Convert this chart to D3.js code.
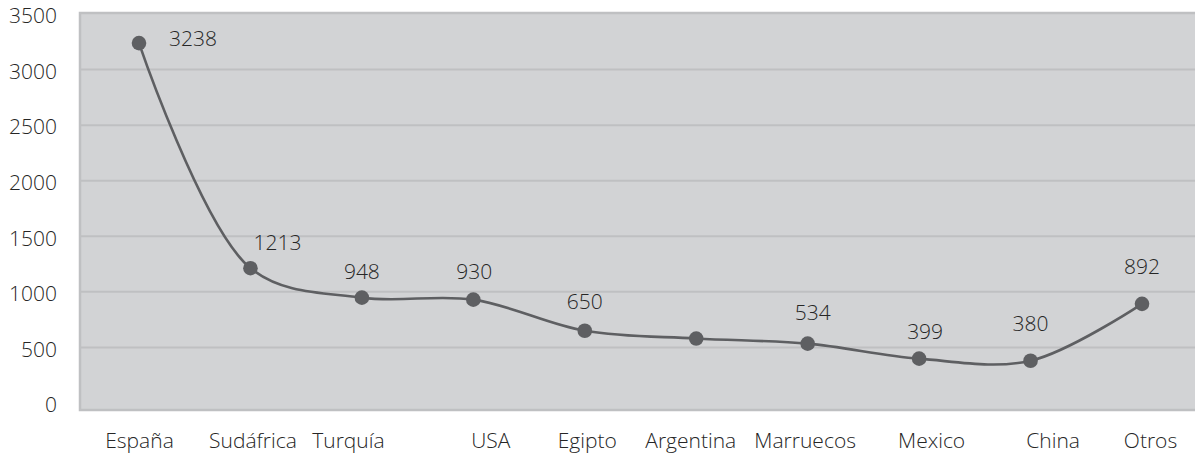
<!DOCTYPE html>
<html lang="es">
<head>
<meta charset="utf-8">
<script src="https://cdn.jsdelivr.net/npm/d3@7/dist/d3.min.js"></script>
<style>
  html, body { margin: 0; padding: 0; background: #ffffff; }
  svg { display: block; }
  text { font-family: "Open Sans", "Noto Sans", sans-serif; font-weight: 300; fill: #262626; }
</style>
</head>
<body>
<svg id="chart" width="1195" height="454"></svg>
<script>
// Countries (categories) and their values
const countries = ["España", "Sudáfrica", "Turquía", "USA", "Egipto", "Argentina", "Marruecos", "Mexico", "China", "Otros"];
const values = [3238, 1213, 948, 930, 650, 580, 534, 399, 380, 892];
// Value label text per point (Argentina carries no label)
const valueLabels = ["3238", "1213", "948", "930", "650", "", "534", "399", "380", "892"];
// Y axis ticks
const yTicks = [0, 500, 1000, 1500, 2000, 2500, 3000, 3500];

// Label placement relative to each point (layout only)
const labelNudge = [[54, -4], [27, -26], [0, -26], [1, -28], [0, -29], [0, 0], [5, -31], [6, -27], [0, -37], [0, -37]];
// Horizontal shift of each category label (layout only)
const catLabelShift = [0, 2, -14, 17, 2, -6, -3, 12, 22, 8];

const svg = d3.select("#chart");
const W = 1195;
const FONT = "\"Open Sans\", \"Noto Sans\", sans-serif";
const FS = 21;

const frame = { left: 80, top: 13, bottom: 410 };

const y = d3.scaleLinear().domain([0, 3500]).range([403, 14]);
const x = d3.scalePoint().domain(countries).range([139, 1142]);

// Plot area background
svg.append("rect")
  .attr("x", frame.left)
  .attr("y", frame.top)
  .attr("width", W - frame.left + 10)
  .attr("height", frame.bottom - frame.top)
  .attr("fill", "#d2d3d5")
  .attr("stroke", "#bfc0c2")
  .attr("stroke-width", 2.5);

// Horizontal gridlines
svg.append("g")
  .selectAll("line")
  .data(yTicks.filter(t => t > 0 && t < 3500))
  .join("line")
  .attr("x1", frame.left)
  .attr("x2", W + 5)
  .attr("y1", d => y(d))
  .attr("y2", d => y(d))
  .attr("stroke", "#bfc0c2")
  .attr("stroke-width", 2);

// Y axis labels
const yAxis = d3.axisLeft(y).tickValues(yTicks).tickSize(0).tickPadding(0).tickFormat(d3.format("d"));
const gy = svg.append("g")
  .attr("transform", "translate(57,2)")
  .call(yAxis);
gy.select(".domain").remove();
gy.selectAll("text")
  .attr("font-size", FS)
  .attr("font-weight", 300)
  .attr("fill", "#262626")
  .style("font-family", FONT);

// X axis labels
const xAxis = d3.axisBottom(x).tickSize(0).tickPadding(0);
const gx = svg.append("g")
  .attr("transform", "translate(0,433)")
  .call(xAxis);
gx.select(".domain").remove();
gx.selectAll("text")
  .attr("x", (d, i) => catLabelShift[i])
  .attr("font-size", FS)
  .attr("font-weight", 300)
  .attr("fill", "#262626")
  .style("font-family", FONT);

// Smoothed line
const pts = countries.map((c, i) => ({ c, v: values[i], i }));
const line = d3.line()
  .x(d => x(d.c))
  .y(d => y(d.v))
  .curve(d3.curveCatmullRom.alpha(0.5));

svg.append("path")
  .datum(pts)
  .attr("d", line)
  .attr("fill", "none")
  .attr("stroke", "#5e5f62")
  .attr("stroke-width", 2.6);

// Markers
svg.append("g")
  .selectAll("circle")
  .data(pts)
  .join("circle")
  .attr("cx", d => x(d.c))
  .attr("cy", d => y(d.v))
  .attr("r", 7.3)
  .attr("fill", "#5e5f62");

// Value labels
svg.append("g")
  .selectAll("text")
  .data(pts.filter(d => valueLabels[d.i] !== ""))
  .join("text")
  .attr("x", d => x(d.c) + labelNudge[d.i][0])
  .attr("y", d => y(d.v) + labelNudge[d.i][1])
  .attr("dy", "0.35em")
  .attr("text-anchor", "middle")
  .attr("font-size", FS)
  .attr("font-weight", 300)
  .text(d => valueLabels[d.i]);
</script>
</body>
</html>
